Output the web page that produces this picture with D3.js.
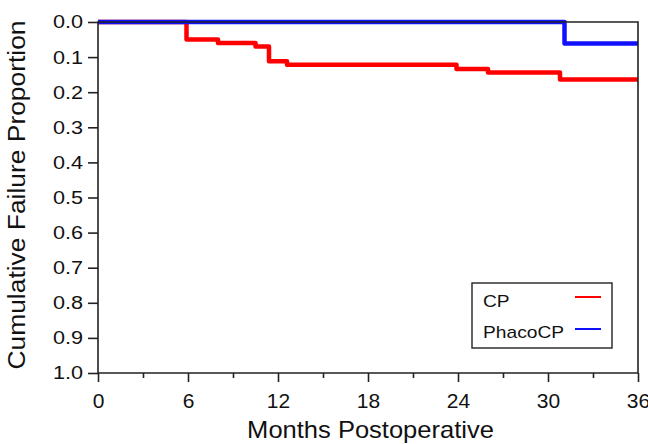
<!DOCTYPE html>
<html>
<head>
<meta charset="utf-8">
<script src="https://cdn.jsdelivr.net/npm/d3@7"></script>
<style>
  body { margin: 0; background: #fff; }
  svg { font-family: "Liberation Sans", Arial, sans-serif; }
</style>
</head>
<body>
<svg width="648" height="444"></svg>
<script>
// CP and PhacoCP failure curves (months, cumulative failure proportion)
let cpMonths = [0, 5.9, 8.0, 10.5, 11.4, 12.6, 23.9, 26.0, 30.8, 36];
let cpFail = [0, 0.05, 0.06, 0.07, 0.112, 0.122, 0.134, 0.144, 0.164, 0.164];
let phacoMonths = [0, 31.1, 36];
let phacoFail = [0, 0.061, 0.061];

let xTicks = [0, 6, 12, 18, 24, 30, 36];
let xMinor = [3, 9, 15, 21, 27, 33];
let yTicks = [0, 0.1, 0.2, 0.3, 0.4, 0.5, 0.6, 0.7, 0.8, 0.9, 1.0];

let legendNames = ["CP", "PhacoCP"];
let legendColors = ["#ff0000", "#1010ff"];

let svg = d3.select("svg");

let plotLeft = 98, plotRight = 638, plotTop = 22, plotBottom = 373;

let scaleX = d3.scaleLinear().domain([0, 36]).range([plotLeft, plotRight]);
let scaleY = d3.scaleLinear().domain([0, 1]).range([plotTop, plotBottom]);

// x axis
let axisX = d3.axisBottom(scaleX)
    .tickValues(xTicks)
    .tickSize(9)
    .tickPadding(11)
    .tickFormat(d3.format("d"));
let gx = svg.append("g")
    .attr("transform", `translate(0, ${plotBottom})`)
    .call(axisX);
gx.select(".domain").remove();
gx.selectAll("text").style("font-size", "21px").attr("fill", "#111");
gx.selectAll("line").attr("stroke", "#222").attr("stroke-width", 1.6);

svg.append("g")
    .attr("transform", `translate(0, ${plotBottom})`)
    .call(d3.axisBottom(scaleX).tickValues(xMinor).tickSize(5).tickFormat(""))
    .call(g => g.select(".domain").remove())
    .selectAll("line").attr("stroke", "#222").attr("stroke-width", 1.6);

// y axis
let axisY = d3.axisLeft(scaleY)
    .tickValues(yTicks)
    .tickSize(10)
    .tickPadding(5)
    .tickFormat(d3.format(".1f"));
let gy = svg.append("g")
    .attr("transform", `translate(${plotLeft}, 0)`)
    .call(axisY);
gy.select(".domain").remove();
gy.selectAll("text")
    .style("font-size", "18.5px")
    .attr("fill", "#111")
    .attr("x", 0)
    .attr("transform", "translate(-15, 0) scale(1.17, 1)");
gy.selectAll("line").attr("stroke", "#222").attr("stroke-width", 1.6);

// titles
svg.append("text")
    .attr("transform", "translate(370.5, 438) scale(1.11, 1)")
    .attr("text-anchor", "middle")
    .style("font-size", "23px")
    .attr("fill", "#111")
    .text("Months Postoperative");

svg.append("text")
    .attr("transform", "translate(25, 195) rotate(-90) scale(1.1, 1)")
    .attr("text-anchor", "middle")
    .style("font-size", "24px")
    .attr("fill", "#111")
    .text("Cumulative Failure Proportion");

// curves
let line = d3.line()
    .x(d => scaleX(d.m))
    .y(d => scaleY(d.f))
    .curve(d3.curveStepAfter);

let cpData = cpMonths.map((m, i) => ({m: m, f: cpFail[i]}));
let phacoData = phacoMonths.map((m, i) => ({m: m, f: phacoFail[i]}));

svg.append("path")
    .datum(cpData)
    .attr("d", line)
    .attr("fill", "none")
    .attr("stroke", legendColors[0])
    .attr("stroke-width", 4.5)
    .attr("stroke-linejoin", "round");

svg.append("path")
    .datum(phacoData)
    .attr("d", line)
    .attr("fill", "none")
    .attr("stroke", legendColors[1])
    .attr("stroke-width", 4.5)
    .attr("stroke-linejoin", "round");

// frame
svg.append("path")
    .attr("d", `M${plotLeft},${plotBottom}V${plotTop}H${plotRight}V${plotBottom}Z`)
    .attr("fill", "none")
    .attr("stroke", "#222")
    .attr("stroke-width", 1.6);

// legend
let lg = svg.append("g").attr("transform", "translate(472, 283)");
lg.append("rect")
    .attr("width", 140).attr("height", 65)
    .attr("fill", "#fff")
    .attr("stroke", "#222").attr("stroke-width", 1.4);
legendNames.forEach((name, i) => {
    lg.append("text")
        .attr("transform", `translate(11, ${23.5 + i * 31}) scale(1.2, 1)`)
        .style("font-size", "16px")
        .attr("fill", "#111")
        .text(name);
    lg.append("line")
        .attr("x1", 103).attr("x2", 129)
        .attr("y1", 14 + i * 32).attr("y2", 14 + i * 32)
        .attr("stroke", legendColors[i])
        .attr("stroke-width", 2);
});
</script>
</body>
</html>
